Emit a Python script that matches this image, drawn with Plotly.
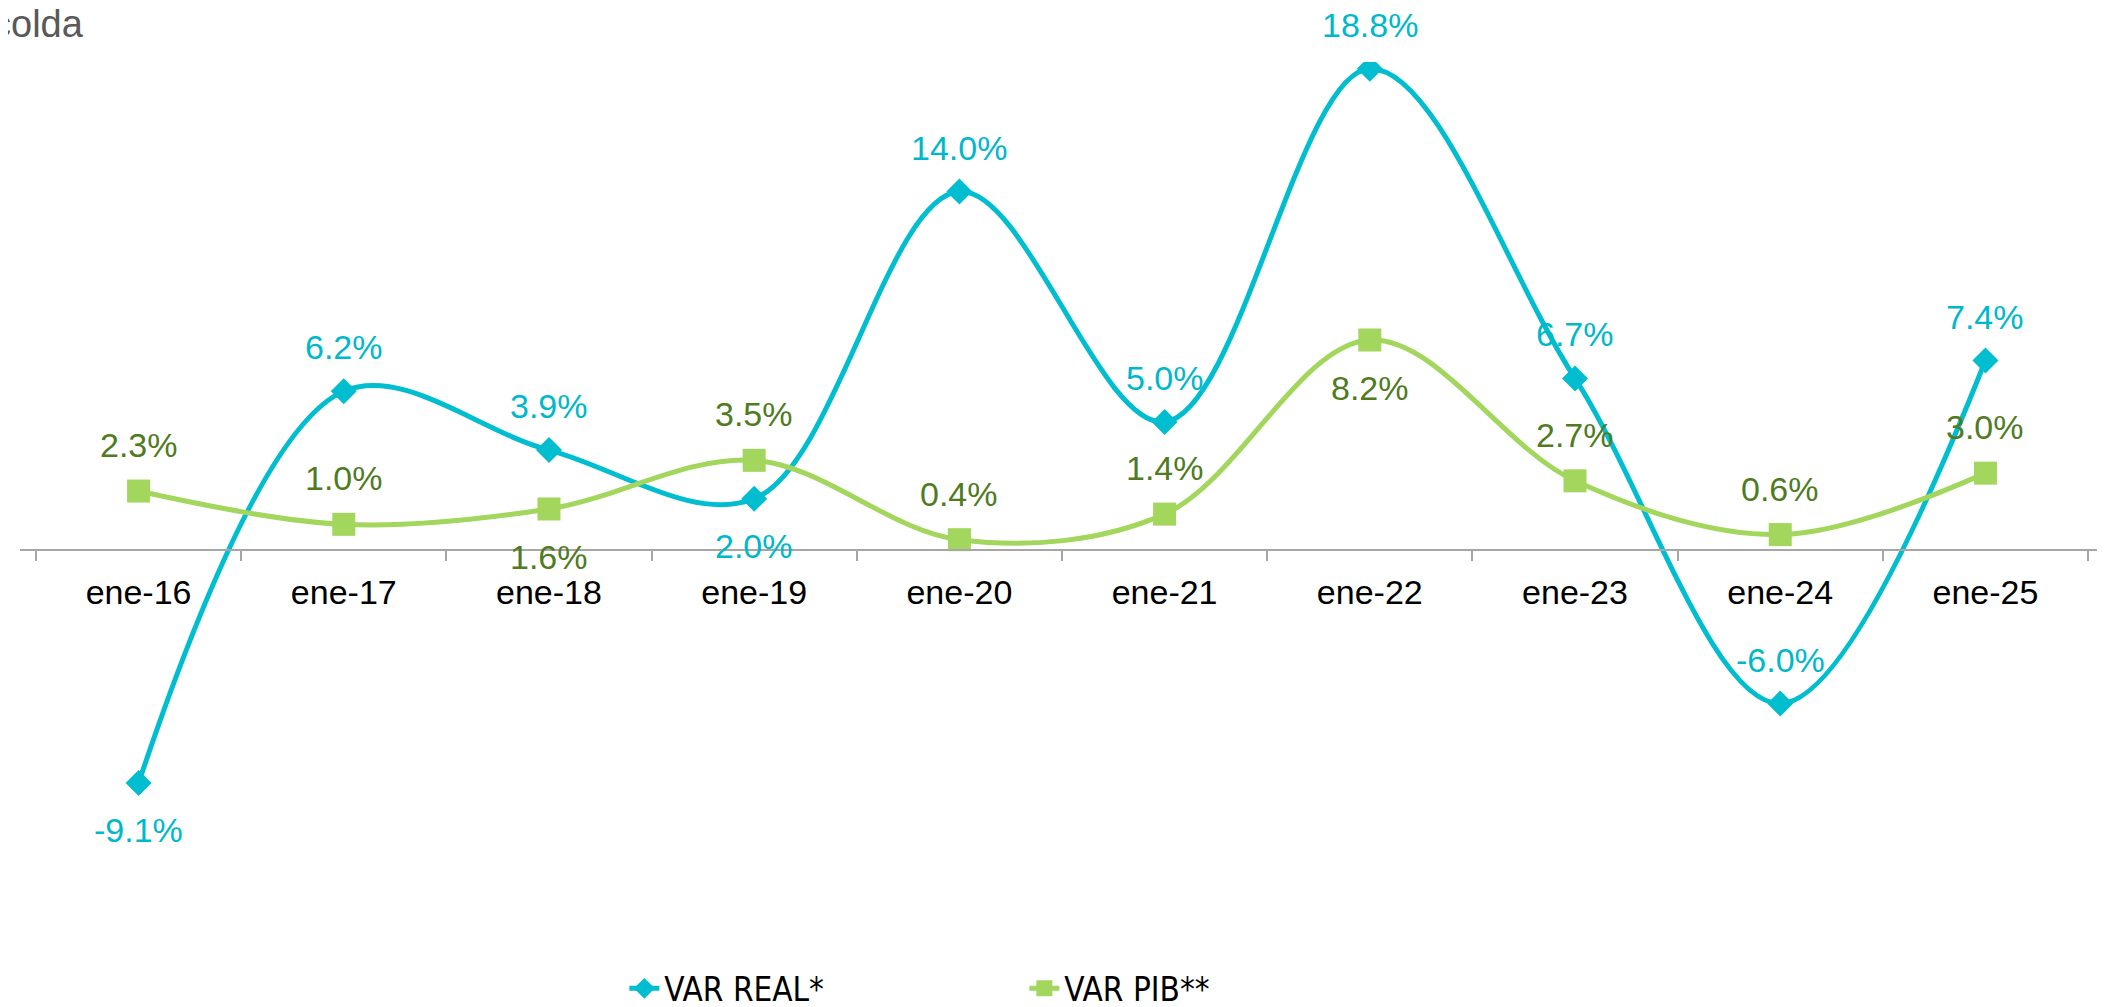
import plotly.graph_objects as go

categories = ["ene-16", "ene-17", "ene-18", "ene-19", "ene-20",
              "ene-21", "ene-22", "ene-23", "ene-24", "ene-25"]
var_real = [-9.1, 6.2, 3.9, 2.0, 14.0, 5.0, 18.8, 6.7, -6.0, 7.4]
var_pib = [2.3, 1.0, 1.6, 3.5, 0.4, 1.4, 8.2, 2.7, 0.6, 3.0]
real_label_pos = ["below", "above", "above", "below", "above",
                  "above", "above", "above", "above", "above"]
pib_label_pos = ["above", "above", "below", "above", "above",
                 "above", "below", "above", "above", "above"]

REAL_COLOR = "#00BECF"
REAL_TEXT = "#00B8CC"
PIB_COLOR = "#A2D65C"
PIB_TEXT = "#507B1F"

YMIN, YMAX = -12.19, 19.06

fig = go.Figure()
fig.add_trace(go.Scatter(
    x=categories, y=var_real, name="VAR REAL*",
    mode="lines+markers",
    line=dict(color=REAL_COLOR, width=5, shape="spline", smoothing=1),
    marker=dict(symbol="diamond", size=20, color=REAL_COLOR),
))
fig.add_trace(go.Scatter(
    x=categories, y=var_pib, name="VAR PIB**",
    mode="lines+markers",
    line=dict(color=PIB_COLOR, width=5, shape="spline", smoothing=1),
    marker=dict(symbol="square", size=23, color=PIB_COLOR),
))

annotations = []
for cat, v, pos in zip(categories, var_real, real_label_pos):
    annotations.append(dict(
        x=cat, y=v, xref="x", yref="y", text=f"{v:.1f}%", showarrow=False,
        yshift=44 if pos == "above" else -47,
        font=dict(family="Liberation Sans, Arial", size=34, color=REAL_TEXT),
    ))
for cat, v, pos in zip(categories, var_pib, pib_label_pos):
    annotations.append(dict(
        x=cat, y=v, xref="x", yref="y", text=f"{v:.1f}%", showarrow=False,
        yshift=46 if pos == "above" else -48,
        font=dict(family="Liberation Sans, Arial", size=34, color=PIB_TEXT),
    ))
annotations.append(dict(
    x=0, y=1, xref="paper", yref="paper", text="colda", showarrow=False,
    xanchor="left", yanchor="middle", xshift=-30, yshift=38,
    font=dict(family="Liberation Sans, Arial", size=38, color="#595959"),
))

fig.update_layout(
    width=2105, height=1007,
    margin=dict(l=12, r=9, t=54, b=153, autoexpand=False),
    paper_bgcolor="white", plot_bgcolor="white",
    showlegend=True,
    legend=dict(
        orientation="h", x=0.29, y=-0.158, xanchor="left", yanchor="middle",
        font=dict(family="DejaVu Sans Condensed, Liberation Sans, Arial", size=33, color="black"),
        entrywidth=355, entrywidthmode="pixels",
    ),
    annotations=annotations,
    xaxis=dict(
        type="category", anchor="free", position=(0 - YMIN) / (YMAX - YMIN),
        showline=True, linecolor="#A6A6A6", linewidth=2,
        ticks="outside", tickson="boundaries", ticklen=10, tickwidth=2,
        tickcolor="#A6A6A6", showgrid=False, zeroline=False,
        tickfont=dict(family="Liberation Sans, Arial", size=34, color="black"),
        ticklabelstandoff=12,
    ),
    yaxis=dict(range=[YMIN, YMAX], visible=False, showgrid=False, zeroline=False),
)

fig.write_html("out.html")
